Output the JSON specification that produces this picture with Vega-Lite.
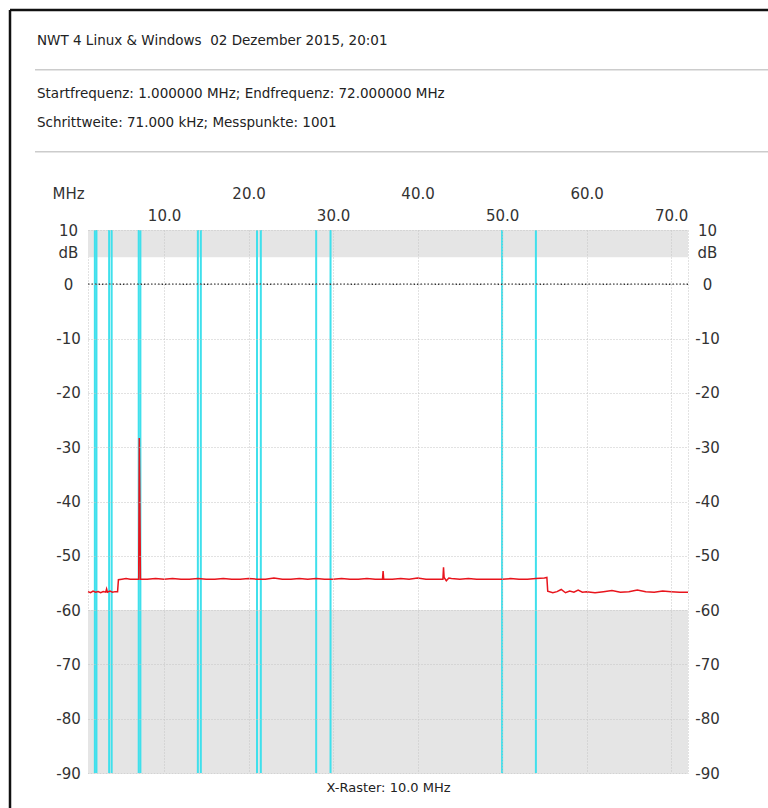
{
  "$schema": "https://vega.github.io/schema/vega-lite/v6.json",
  "width": 600,
  "height": 543,
  "autosize": "none",
  "padding": {"left": 88, "top": 230, "right": 80, "bottom": 35},
  "background": "white",
  "title": {
    "text": "NWT 4 Linux & Windows\u00a0 02 Dezember 2015, 20:01",
    "subtitle": ["Startfrequenz: 1.000000 MHz; Endfrequenz: 72.000000 MHz", "Schrittweite: 71.000 kHz; Messpunkte: 1001"],
    "anchor": "start",
    "frame": "group",
    "dx": -51,
    "offset": -121,
    "font": "DejaVu Sans",
    "fontSize": 13.5,
    "fontWeight": "normal",
    "color": "#222222",
    "subtitleFont": "DejaVu Sans",
    "subtitleFontSize": 13.5,
    "subtitleColor": "#222222",
    "subtitleLineHeight": 29,
    "subtitlePadding": 40
  },
  "datasets": {
    "bands": [
      {"hi": 10, "lo": 5},
      {"hi": -60, "lo": -90}
    ],
    "markers": [
      {"f": 1.81}, {"f": 2.0}, {"f": 3.5}, {"f": 3.8}, {"f": 7.0}, {"f": 7.2},
      {"f": 14.0}, {"f": 14.35}, {"f": 21.0}, {"f": 21.45}, {"f": 28.0}, {"f": 29.7},
      {"f": 50.0}, {"f": 54.0}
    ],
    "trace": [
      {"f": 1.0, "db": -56.6}, {"f": 1.3, "db": -56.8}, {"f": 1.6, "db": -56.5}, {"f": 1.9, "db": -56.7},
      {"f": 2.2, "db": -56.6}, {"f": 2.5, "db": -56.8}, {"f": 2.8, "db": -56.6}, {"f": 3.1, "db": -56.7},
      {"f": 3.2, "db": -56.1}, {"f": 3.3, "db": -56.7}, {"f": 3.6, "db": -56.5}, {"f": 3.9, "db": -56.7},
      {"f": 4.2, "db": -56.6}, {"f": 4.5, "db": -56.6}, {"f": 4.6, "db": -54.4}, {"f": 5.0, "db": -54.3},
      {"f": 5.5, "db": -54.2}, {"f": 6.0, "db": -54.3}, {"f": 6.5, "db": -54.3}, {"f": 7.0, "db": -54.3},
      {"f": 7.07, "db": -28.3}, {"f": 7.14, "db": -41.4}, {"f": 7.21, "db": -54.3},
      {"f": 8, "db": -54.3}, {"f": 9, "db": -54.2}, {"f": 10, "db": -54.3}, {"f": 11, "db": -54.2},
      {"f": 12, "db": -54.3}, {"f": 13, "db": -54.3}, {"f": 14, "db": -54.2}, {"f": 15, "db": -54.3},
      {"f": 16, "db": -54.3}, {"f": 17, "db": -54.2}, {"f": 18, "db": -54.3}, {"f": 19, "db": -54.3},
      {"f": 20, "db": -54.2}, {"f": 21, "db": -54.3}, {"f": 22, "db": -54.3}, {"f": 23, "db": -54.1},
      {"f": 24, "db": -54.3}, {"f": 25, "db": -54.3}, {"f": 26, "db": -54.2}, {"f": 27, "db": -54.3},
      {"f": 28, "db": -54.2}, {"f": 29, "db": -54.3}, {"f": 30, "db": -54.3}, {"f": 31, "db": -54.2},
      {"f": 32, "db": -54.3}, {"f": 33, "db": -54.3}, {"f": 34, "db": -54.2}, {"f": 35, "db": -54.3},
      {"f": 35.85, "db": -54.3}, {"f": 35.92, "db": -52.8}, {"f": 35.99, "db": -54.3},
      {"f": 37, "db": -54.3}, {"f": 38, "db": -54.2}, {"f": 39, "db": -54.3}, {"f": 40, "db": -54.1},
      {"f": 41, "db": -54.3}, {"f": 42, "db": -54.3}, {"f": 43.0, "db": -54.3}, {"f": 43.07, "db": -52.1},
      {"f": 43.14, "db": -54.0}, {"f": 43.4, "db": -54.6}, {"f": 43.7, "db": -54.1}, {"f": 44, "db": -54.2},
      {"f": 45, "db": -54.3}, {"f": 46, "db": -54.2}, {"f": 47, "db": -54.3}, {"f": 48, "db": -54.3},
      {"f": 49, "db": -54.3}, {"f": 50, "db": -54.3}, {"f": 51, "db": -54.2}, {"f": 52, "db": -54.3},
      {"f": 53, "db": -54.3}, {"f": 54, "db": -54.2}, {"f": 55, "db": -54.1}, {"f": 55.3, "db": -54.0},
      {"f": 55.4, "db": -56.5}, {"f": 56, "db": -56.8}, {"f": 56.5, "db": -56.6}, {"f": 57, "db": -56.2},
      {"f": 57.5, "db": -56.8}, {"f": 58, "db": -56.5}, {"f": 58.5, "db": -56.7}, {"f": 59, "db": -56.3},
      {"f": 59.5, "db": -56.7}, {"f": 60, "db": -56.6}, {"f": 61, "db": -56.8}, {"f": 62, "db": -56.6},
      {"f": 63, "db": -56.4}, {"f": 64, "db": -56.7}, {"f": 65, "db": -56.6}, {"f": 66, "db": -56.3},
      {"f": 67, "db": -56.6}, {"f": 68, "db": -56.7}, {"f": 69, "db": -56.5}, {"f": 70, "db": -56.6},
      {"f": 71, "db": -56.7}, {"f": 72, "db": -56.7}
    ]
  },
  "resolve": {"axis": {"x": "independent", "y": "independent"}},
  "layer": [
    {
      "data": {"name": "bands"},
      "mark": {"type": "rect", "fill": "#e5e5e5"},
      "encoding": {
        "y": {
          "field": "hi", "type": "quantitative",
          "scale": {"domain": [-90, 10], "nice": false, "zero": false},
          "axis": {
            "orient": "left",
            "values": [-90, -80, -70, -60, -50, -40, -30, -20, -10, 0, 10],
            "labelExpr": "datum.value == 10 ? ['10', 'dB'] : '' + datum.value",
            "labelAlign": "center",
            "labelBaseline": "middle",
            "labelPadding": 20,
            "labelLineHeight": 22,
            "title": null,
            "grid": true,
            "zindex": 1
          }
        },
        "y2": {"field": "lo"}
      }
    },
    {
      "data": {"name": "markers"},
      "mark": {"type": "rule", "color": "#3fe0ec", "strokeWidth": 2},
      "encoding": {
        "x": {
          "field": "f", "type": "quantitative",
          "scale": {"domain": [1, 72], "nice": false, "zero": false},
          "axis": {
            "orient": "top",
            "values": [10, 20, 30, 40, 50, 60, 70],
            "labelExpr": "(datum.value / 10) % 2 == 0 ? format(datum.value, '.1f') : ['\u00a0', format(datum.value, '.1f')]",
            "labelBaseline": "bottom",
            "labelLineHeight": 22,
            "labelPadding": 29,
            "labelOverlap": false,
            "labelFlush": false,
            "title": "MHz",
            "titleX": -20,
            "titleY": -37,
            "titleAlign": "center",
            "titleBaseline": "middle",
            "titleAngle": 0,
            "titleFontSize": 15,
            "titleFont": "DejaVu Sans",
            "titleFontWeight": "normal",
            "titleColor": "#333333",
            "grid": true,
            "zindex": 1
          }
        }
      }
    },
    {
      "data": {"values": [{}]},
      "mark": {"type": "rule", "color": "#333333", "strokeDash": [1.5, 2], "strokeWidth": 1.5},
      "encoding": {"y": {"datum": 0, "axis": null}}
    },
    {
      "data": {"name": "trace"},
      "mark": {"type": "line", "color": "#e8141c", "strokeWidth": 1.5, "interpolate": "linear"},
      "encoding": {
        "x": {
          "field": "f", "type": "quantitative",
          "axis": {
            "orient": "bottom",
            "labels": false,
            "ticks": false,
            "domain": false,
            "grid": false,
            "title": "X-Raster: 10.0 MHz",
            "titleFont": "DejaVu Sans",
            "titleFontSize": 13,
            "titleFontWeight": "normal",
            "titleColor": "#222222",
            "titlePadding": 8
          }
        },
        "y": {
          "field": "db", "type": "quantitative",
          "axis": {
            "orient": "right",
            "values": [-90, -80, -70, -60, -50, -40, -30, -20, -10, 0, 10],
            "labelExpr": "datum.value == 10 ? ['10', 'dB'] : '' + datum.value",
            "labelAlign": "center",
            "labelBaseline": "middle",
            "labelPadding": 19,
            "labelLineHeight": 22,
            "title": null,
            "grid": false
          }
        }
      }
    },
    {
      "data": {"values": [{}]},
      "mark": {"type": "rule", "color": "#cccccc", "strokeWidth": 1.5, "clip": false},
      "encoding": {"x": {"datum": -5.27, "axis": null}, "x2": {"datum": 82}, "y": {"datum": 39.5, "axis": null}}
    },
    {
      "data": {"values": [{}]},
      "mark": {"type": "rule", "color": "#cccccc", "strokeWidth": 1.5, "clip": false},
      "encoding": {"x": {"datum": -5.27, "axis": null}, "x2": {"datum": 82}, "y": {"datum": 24.4, "axis": null}}
    },
    {
      "data": {"values": [{}]},
      "mark": {"type": "rule", "color": "#111111", "strokeWidth": 2.5, "clip": false},
      "encoding": {"x": {"datum": -8.23, "axis": null}, "x2": {"datum": 82}, "y": {"datum": 50.5, "axis": null}}
    },
    {
      "data": {"values": [{}]},
      "mark": {"type": "rule", "color": "#111111", "strokeWidth": 2.5, "clip": false},
      "encoding": {"x": {"datum": -8.23, "axis": null}, "y": {"datum": 50.5, "axis": null}, "y2": {"datum": -97}}
    }
  ],
  "config": {
    "view": {"stroke": "#c4c4c4", "strokeDash": [1, 2]},
    "axis": {
      "domain": false,
      "ticks": false,
      "tickSize": 0,
      "gridColor": "#c4c4c4",
      "gridDash": [1, 2],
      "gridWidth": 1,
      "labelFont": "DejaVu Sans",
      "labelFontSize": 15,
      "labelColor": "#333333"
    }
  }
}
